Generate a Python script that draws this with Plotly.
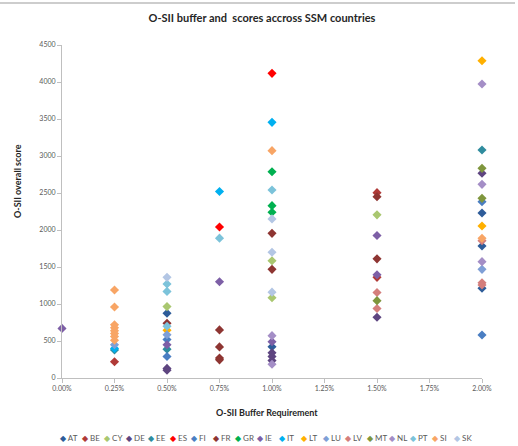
import plotly.graph_objects as go

countries = ["AT", "BE", "CY", "DE", "EE", "ES", "FI", "FR", "GR", "IE",
             "IT", "LT", "LU", "LV", "MT", "NL", "PT", "SI", "SK"]
colors = ["#2E5C99", "#B03A37", "#A9C770", "#5E4580", "#2F8C9E", "#FF0000",
          "#4A7EC2", "#8E3532", "#00B050", "#7D5FA6", "#00B0F0", "#FFB000",
          "#7F9FD6", "#D47E7C", "#7F963D", "#A48EC6", "#7CC3DA", "#F8A565",
          "#B3C6E4"]

# buffer requirement (fraction) and O-SII score per country
AT_buf = [0.005, 0.01, 0.02, 0.02, 0.02]
AT_score = [875, 423, 2230, 1784, 1212]
BE_buf = [0.0025, 0.015, 0.015]
BE_score = [220, 2505, 1360]
CY_buf = [0.005, 0.01, 0.01, 0.015]
CY_score = [965, 1585, 1085, 2205]
DE_buf = [0.005, 0.005, 0.01, 0.01, 0.01, 0.015, 0.02]
DE_score = [130, 105, 340, 290, 235, 820, 2766]
EE_buf = [0.0025, 0.005, 0.02]
EE_score = [380, 390, 3081]
ES_buf = [0.0075, 0.01]
ES_score = [2040, 4117]
FI_buf = [0.005, 0.005, 0.02, 0.02]
FI_score = [520, 290, 2383, 581]
FR_buf = [0.005, 0.0075, 0.0075, 0.0075, 0.0075, 0.01, 0.01, 0.015, 0.015]
FR_score = [740, 650, 420, 270, 245, 1955, 1468, 2450, 1610]
GR_buf = [0.01, 0.01, 0.01]
GR_score = [2788, 2329, 2239]
IE_buf = [0.0, 0.005, 0.0075, 0.01, 0.015, 0.015]
IE_score = [670, 450, 1300, 490, 1925, 1395]
IT_buf = [0.0025, 0.0075, 0.01]
IT_score = [400, 2520, 3455]
LT_buf = [0.005, 0.02, 0.02]
LT_score = [645, 4288, 2054]
LU_buf = [0.0025, 0.005, 0.02]
LU_score = [450, 585, 1468]
LV_buf = [0.015, 0.015, 0.02, 0.02, 0.02]
LV_score = [1155, 940, 1856, 1288, 1257]
MT_buf = [0.015, 0.02, 0.02]
MT_score = [1045, 2833, 2428]
NL_buf = [0.01, 0.01, 0.02, 0.02, 0.02]
NL_score = [572, 185, 3973, 2617, 1572]
PT_buf = [0.005, 0.005, 0.005, 0.0075, 0.01]
PT_score = [1270, 1170, 700, 1890, 2541]
SI_buf = [0.0025, 0.0025, 0.0025, 0.0025, 0.0025, 0.0025, 0.0025, 0.0025, 0.01, 0.02]
SI_score = [1190, 960, 720, 680, 640, 600, 560, 510, 3072, 1887]
SK_buf = [0.005, 0.01, 0.01, 0.01]
SK_score = [1360, 2150, 1700, 1160]

x_ticks = [0.0, 0.0025, 0.005, 0.0075, 0.01, 0.0125, 0.015, 0.0175, 0.02]
x_tick_labels = ["0.00%", "0.25%", "0.50%", "0.75%", "1.00%", "1.25%", "1.50%", "1.75%", "2.00%"]

title_text = "O-SII buffer and  scores accross SSM countries"
x_title = "O-SII Buffer Requirement"
y_title = "O-SII overall score"

data = {
    "AT": (AT_buf, AT_score), "BE": (BE_buf, BE_score), "CY": (CY_buf, CY_score),
    "DE": (DE_buf, DE_score), "EE": (EE_buf, EE_score), "ES": (ES_buf, ES_score),
    "FI": (FI_buf, FI_score), "FR": (FR_buf, FR_score), "GR": (GR_buf, GR_score),
    "IE": (IE_buf, IE_score), "IT": (IT_buf, IT_score), "LT": (LT_buf, LT_score),
    "LU": (LU_buf, LU_score), "LV": (LV_buf, LV_score), "MT": (MT_buf, MT_score),
    "NL": (NL_buf, NL_score), "PT": (PT_buf, PT_score), "SI": (SI_buf, SI_score),
    "SK": (SK_buf, SK_score),
}

W, H = 518, 446
L, R, T, B = 62, 36, 45, 68
pw, ph = W - L - R, H - T - B

FONT = "Lato, Open Sans, sans-serif"
GRAY = "#595959"

fig = go.Figure()
for c, col in zip(countries, colors):
    xs, ys = data[c]
    fig.add_trace(go.Scatter(
        x=xs, y=ys, mode="markers", name=c, cliponaxis=False,
        marker=dict(symbol="diamond", size=7, color=col, line=dict(width=0)),
        showlegend=False,
    ))

def px_x(px):
    return (px - L) / pw

def px_y(py):
    return (H - B - py) / ph

annotations = [
    dict(text="<b>" + x_title + "</b>", x=px_x(267), y=px_y(412), xref="paper", yref="paper",
         xanchor="center", yanchor="middle",
         showarrow=False, font=dict(size=9, color="#262626", family=FONT)),
    dict(text="<b>" + y_title + "</b>", x=px_x(17), y=px_y(181), xref="paper", yref="paper",
         xanchor="center", yanchor="middle",
         showarrow=False, textangle=-90, font=dict(size=9, color="#262626", family=FONT)),
]
# manual legend row
leg_start, leg_step = 58, 21.9
for i, (c, col) in enumerate(zip(countries, colors)):
    annotations.append(dict(
        text='<span style="color:%s">◆</span> %s' % (col, c),
        x=px_x(leg_start + i * leg_step), y=px_y(438), xref="paper", yref="paper",
        xanchor="left", yanchor="middle", showarrow=False,
        font=dict(size=8, color=GRAY, family=FONT)))

fig.update_layout(
    width=W, height=H,
    margin=dict(l=L, r=R, t=T, b=B),
    paper_bgcolor="white", plot_bgcolor="white",
    title=dict(text="<b>" + title_text + "</b>", x=262 / W, xanchor="center",
               y=1 - 18 / H, yanchor="middle",
               font=dict(size=11, color="#262626", family=FONT)),
    annotations=annotations,
    shapes=[dict(type="line", xref="paper", yref="paper", x0=px_x(0), x1=px_x(515),
                 y0=px_y(3), y1=px_y(3), line=dict(color="#BDBDBD", width=1.5))],
    font=dict(family=FONT, color=GRAY),
)
fig.update_xaxes(range=[0, 0.02], tickvals=x_ticks, ticktext=x_tick_labels,
                 showgrid=False, zeroline=False, showline=True, linecolor="#BFBFBF",
                 ticks="outside", ticklen=4, tickcolor="#BFBFBF",
                 tickfont=dict(size=7, color=GRAY, family=FONT))
fig.update_yaxes(range=[0, 4500], dtick=500, showgrid=False, zeroline=False,
                 showline=True, linecolor="#BFBFBF", ticks="outside", ticklen=4,
                 tickcolor="#BFBFBF", tickfont=dict(size=7, color=GRAY, family=FONT))

fig.write_html("out.html", config={"displayModeBar": False},
               post_script="document.body.style.margin='0';")
